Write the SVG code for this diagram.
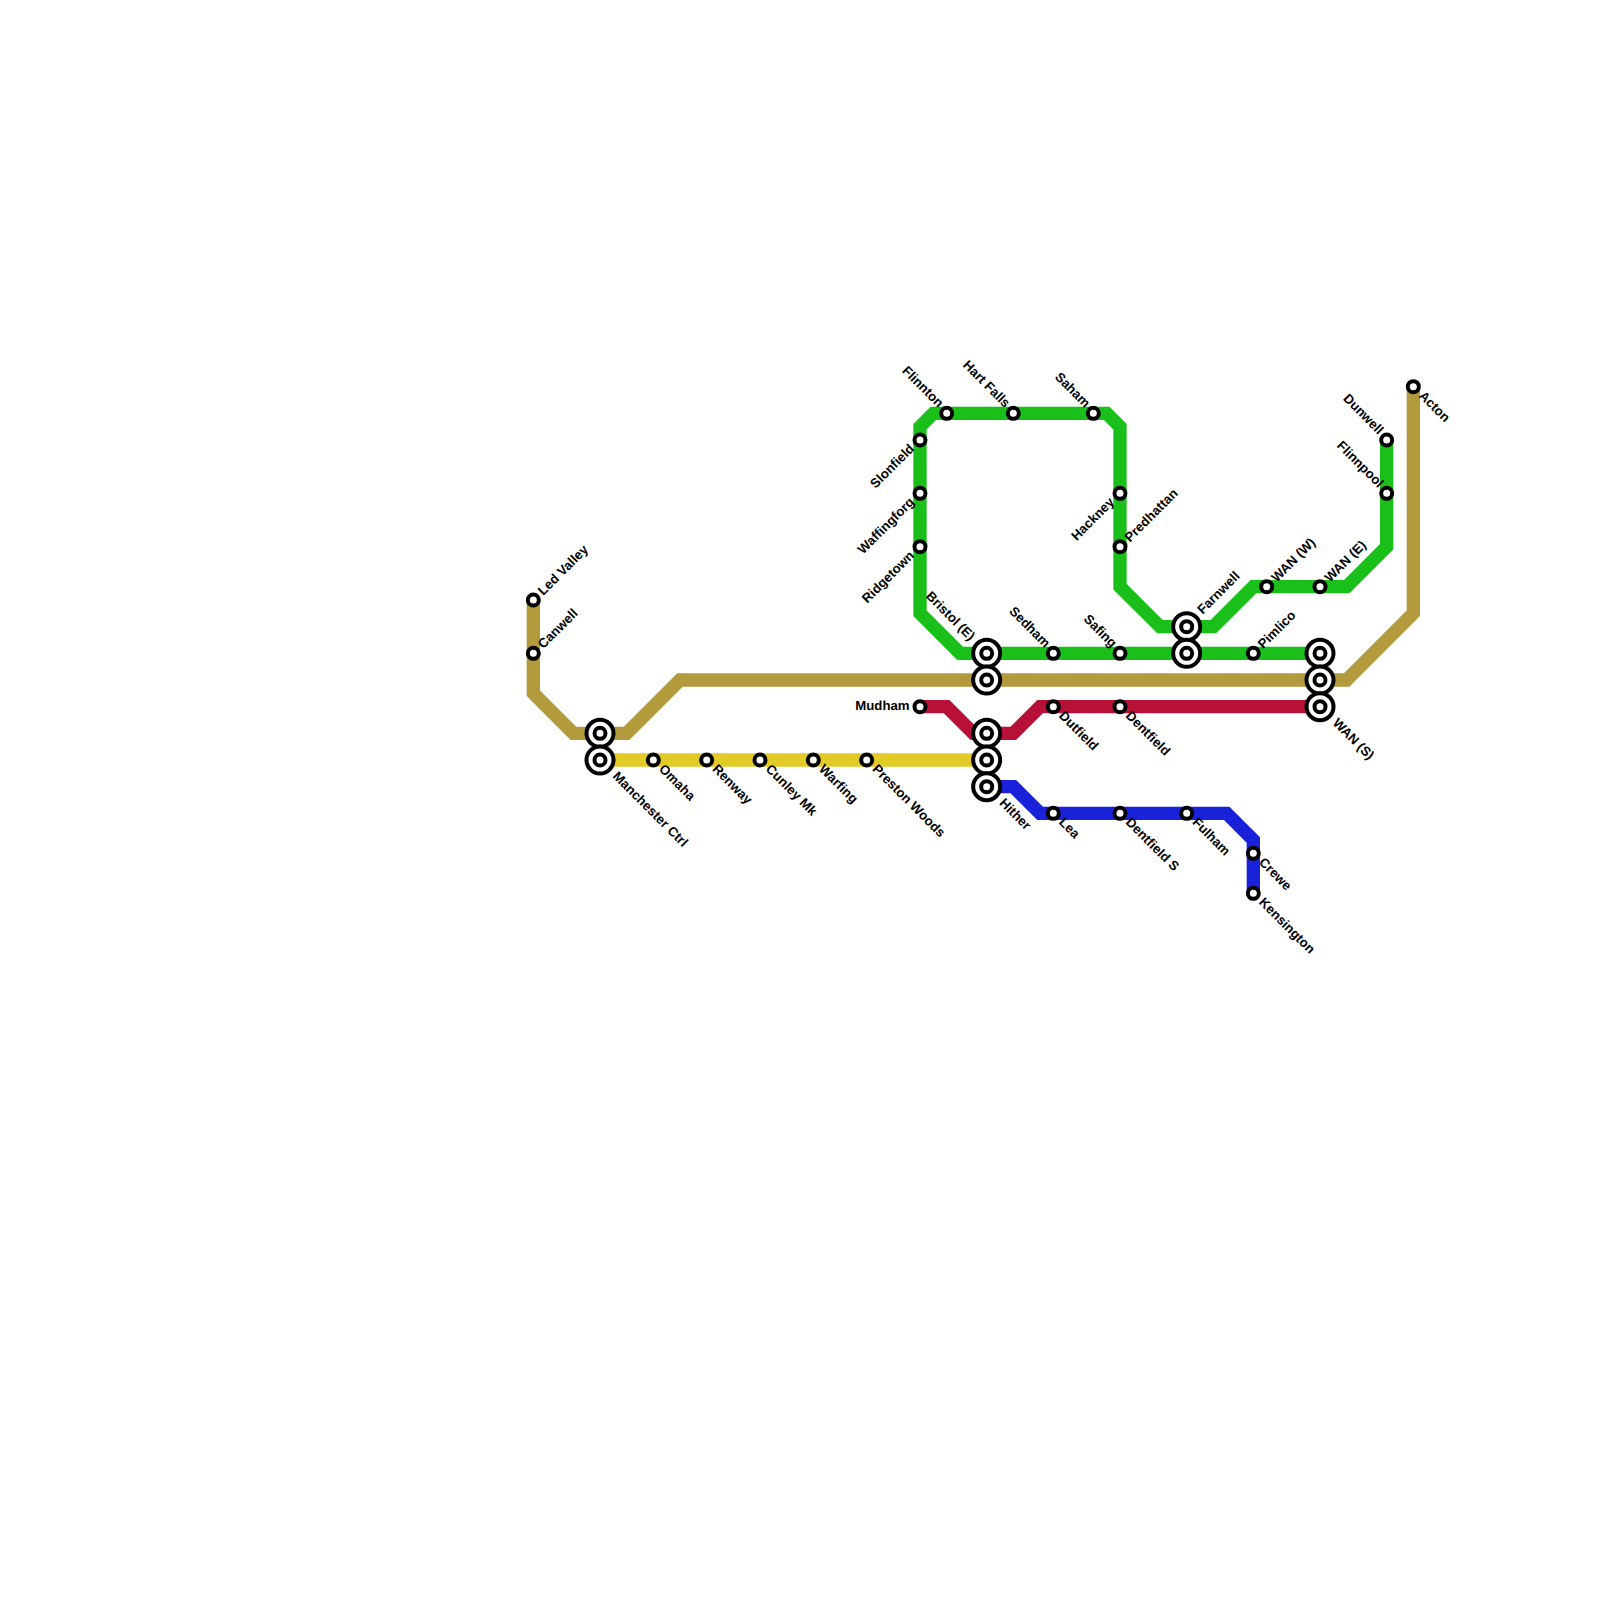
<svg xmlns="http://www.w3.org/2000/svg" width="1600" height="1600" viewBox="0 0 1600 1600">
<defs>
<style>
.ln{fill:none;stroke-width:13.33;stroke-linejoin:miter;stroke-linecap:butt}
.s{fill:#fff;stroke:#000;stroke-width:4}
text{font-family:"Liberation Sans",Arial,sans-serif;font-weight:700;font-size:13.2px;fill:#000;text-rendering:geometricPrecision}
.e{text-anchor:end}
</style>
<g id="st"><circle class="s" r="5.5"/></g>
<g id="ic"><circle class="s" r="13.5"/><circle class="s" r="5.5"/></g>
</defs>
<rect width="1600" height="1600" fill="#fff"/>
<g id="connectors">
<path class="ln" stroke="#b39a3d" d="M533.33 600V693.33L573.33 733.33H626.67L680 680H1346.67L1413.33 613.33V386.67"/>
<path class="ln" stroke="#1bbf1a" d="M1386.67 440V546.67L1346.67 586.67H1253.33L1213.33 626.67H1160L1120 586.67V426.67L1106.67 413.33H933.33L920 426.67V613.33L960 653.33H1320"/>
<path class="ln" stroke="#b81137" d="M920 706.67H946.67L973.33 733.33H1013.33L1040 706.67H1320"/>
<path class="ln" stroke="#e3cb27" d="M600 760H986.67"/>
<path class="ln" stroke="#1a22d9" d="M986.67 786.67H1013.33L1040 813.33H1226.67L1253.33 840V893.33"/>
</g>
<g id="led-valley"><use href="#st" x="533.33" y="600"/><text transform="translate(543.3,596) rotate(-45)">Led Valley</text></g>
<g id="canwell"><use href="#st" x="533.33" y="653.33"/><text transform="translate(543.3,649.3) rotate(-45)">Canwell</text></g>
<g id="manchester-1"><use href="#ic" x="600" y="733.33"/></g>
<g id="manchester-ctrl"><use href="#ic" x="600" y="760"/><text transform="translate(612,777) rotate(45)">Manchester Ctrl</text></g>
<g id="omaha"><use href="#st" x="653.33" y="760"/><text transform="translate(658.3,769.8) rotate(45)">Omaha</text></g>
<g id="renway"><use href="#st" x="706.67" y="760"/><text transform="translate(711.7,769.8) rotate(45)">Renway</text></g>
<g id="cunley-mk"><use href="#st" x="760" y="760"/><text transform="translate(765,769.8) rotate(45)">Cunley Mk</text></g>
<g id="warfing"><use href="#st" x="813.33" y="760"/><text transform="translate(818.3,769.8) rotate(45)">Warfing</text></g>
<g id="preston-woods"><use href="#st" x="866.67" y="760"/><text transform="translate(871.7,769.8) rotate(45)">Preston Woods</text></g>
<g id="mudham"><use href="#st" x="920" y="706.67"/><text class="e" x="909.5" y="710">Mudham</text></g>
<g id="ridgetown"><use href="#st" x="920" y="546.67"/><text class="e" transform="translate(915,556.2) rotate(-45)">Ridgetown</text></g>
<g id="waffingforg"><use href="#st" x="920" y="493.33"/><text class="e" transform="translate(915,502.8) rotate(-45)">Waffingforg</text></g>
<g id="slonfield"><use href="#st" x="920" y="440"/><text class="e" transform="translate(915,449.5) rotate(-45)">Slonfield</text></g>
<g id="flinnton"><use href="#st" x="946.67" y="413.33"/><text class="e" transform="translate(938.2,408.3) rotate(45)">Flinnton</text></g>
<g id="hart-falls"><use href="#st" x="1013.33" y="413.33"/><text class="e" transform="translate(1004.8,408.3) rotate(45)">Hart Falls</text></g>
<g id="saham"><use href="#st" x="1093.33" y="413.33"/><text class="e" transform="translate(1084.8,408.3) rotate(45)">Saham</text></g>
<g id="hackney"><use href="#st" x="1120" y="493.33"/><text class="e" transform="translate(1115,502.8) rotate(-45)">Hackney</text></g>
<g id="predhattan"><use href="#st" x="1120" y="546.67"/><text transform="translate(1130,542.7) rotate(-45)">Predhattan</text></g>
<g id="sedham"><use href="#st" x="1053.33" y="653.33"/><text class="e" transform="translate(1044.8,648.3) rotate(45)">Sedham</text></g>
<g id="safing"><use href="#st" x="1120" y="653.33"/><text class="e" transform="translate(1111.5,648.3) rotate(45)">Safing</text></g>
<g id="bristol-e"><use href="#ic" x="986.67" y="653.33"/><text class="e" transform="translate(969.7,641.3) rotate(45)">Bristol (E)</text></g>
<g id="bristol-2"><use href="#ic" x="986.67" y="680"/></g>
<g id="farnwell"><use href="#ic" x="1186.67" y="626.67"/><text transform="translate(1202.7,614.7) rotate(-45)">Farnwell</text></g>
<g id="farnwell-2"><use href="#ic" x="1186.67" y="653.33"/></g>
<g id="pimlico"><use href="#st" x="1253.33" y="653.33"/><text transform="translate(1263.3,649.3) rotate(-45)">Pimlico</text></g>
<g id="wan-w"><use href="#st" x="1266.67" y="586.67"/><text transform="translate(1276.7,582.7) rotate(-45)">WAN (W)</text></g>
<g id="wan-e"><use href="#st" x="1320" y="586.67"/><text transform="translate(1330,582.7) rotate(-45)">WAN (E)</text></g>
<g id="dunwell"><use href="#st" x="1386.67" y="440"/><text class="e" transform="translate(1378.2,435) rotate(45)">Dunwell</text></g>
<g id="flinnpool"><use href="#st" x="1386.67" y="493.33"/><text class="e" transform="translate(1378.2,488.3) rotate(45)">Flinnpool</text></g>
<g id="acton"><use href="#st" x="1413.33" y="386.67"/><text transform="translate(1418.3,396.5) rotate(45)">Acton</text></g>
<g id="wan-1"><use href="#ic" x="1320" y="653.33"/></g>
<g id="wan-2"><use href="#ic" x="1320" y="680"/></g>
<g id="wan-s"><use href="#ic" x="1320" y="706.67"/><text transform="translate(1332,723.7) rotate(45)">WAN (S)</text></g>
<g id="dutfield"><use href="#st" x="1053.33" y="706.67"/><text transform="translate(1058.3,716.5) rotate(45)">Dutfield</text></g>
<g id="dentfield"><use href="#st" x="1120" y="706.67"/><text transform="translate(1125,716.5) rotate(45)">Dentfield</text></g>
<g id="junction-1"><use href="#ic" x="986.67" y="733.33"/></g>
<g id="junction-2"><use href="#ic" x="986.67" y="760"/></g>
<g id="hither"><use href="#ic" x="986.67" y="786.67"/><text transform="translate(998.7,803.7) rotate(45)">Hither</text></g>
<g id="lea"><use href="#st" x="1053.33" y="813.33"/><text transform="translate(1058.3,823.1) rotate(45)">Lea</text></g>
<g id="dentfield-s"><use href="#st" x="1120" y="813.33"/><text transform="translate(1125,823.1) rotate(45)">Dentfield S</text></g>
<g id="fulham"><use href="#st" x="1186.67" y="813.33"/><text transform="translate(1191.7,823.1) rotate(45)">Fulham</text></g>
<g id="crewe"><use href="#st" x="1253.33" y="853.33"/><text transform="translate(1258.3,863.1) rotate(45)">Crewe</text></g>
<g id="kensington"><use href="#st" x="1253.33" y="893.33"/><text transform="translate(1258.3,903.1) rotate(45)">Kensington</text></g>
</svg>
